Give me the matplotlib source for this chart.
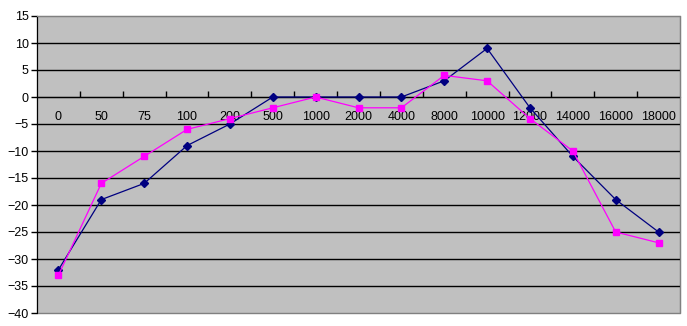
import matplotlib
matplotlib.use("Agg")
import matplotlib.pyplot as plt
from matplotlib.patches import Rectangle

# categories along the x axis
categories = ["0", "50", "75", "100", "200", "500", "1000", "2000", "4000",
              "8000", "10000", "12000", "14000", "16000", "18000"]

# the two series
navy_vals = [-32, -19, -16, -9, -5, 0, 0, 0, 0, 3, 9, -2, -11, -19, -25]
pink_vals = [-33, -16, -11, -6, -4, -2, 0, -2, -2, 4, 3, -4, -10, -25, -27]

plt.rcParams['font.family'] = ['Liberation Sans', 'DejaVu Sans']

fig = plt.figure(figsize=(6.87, 3.26), dpi=100)
ax = fig.add_axes([37 / 687, 13 / 326, 643 / 687, 297 / 326])
ax.set_facecolor("#C0C0C0")

x = list(range(len(categories)))
ax.set_xlim(-0.5, len(categories) - 0.5)
ax.set_ylim(-40, 15)

# horizontal grid
for y in range(-35, 15, 5):
    ax.axhline(y, color="black", lw=1, zorder=1)

ax.plot(x, navy_vals, color="#000080", lw=0.9, marker="D", ms=4,
        mfc="#000080", mec="#000080", zorder=3)
ax.plot(x, pink_vals, color="#FF00FF", lw=0.9, marker="s", ms=5,
        mfc="#FF00FF", mec="#FF00FF", zorder=3)

# y axis
ax.set_yticks(range(-40, 16, 5))
ax.tick_params(axis="y", direction="out", length=4, width=1, labelsize=9,
               pad=2, colors="black")

# category axis crossing at 0
ax.spines["bottom"].set_position(("data", 0))
ax.spines["bottom"].set_color("black")
ax.spines["bottom"].set_zorder(2)
ax.set_xticks(x)
ax.set_xticklabels(categories)
ax.set_xticks([i + 0.5 for i in x[:-1]], minor=True)
ax.tick_params(axis="x", which="major", length=0, pad=10, labelsize=9)
ax.tick_params(axis="x", which="minor", direction="in", length=4, width=1,
               colors="black")

for s in ["top", "right"]:
    ax.spines[s].set_color("#808080")
ax.spines["left"].set_color("black")

# plot area border at the bottom
ax.add_patch(Rectangle((0, 0), 1, 1, transform=ax.transAxes, fill=False,
                       edgecolor="#808080", lw=1, clip_on=False, zorder=0.5))

fig.savefig("out.png", dpi=100)
